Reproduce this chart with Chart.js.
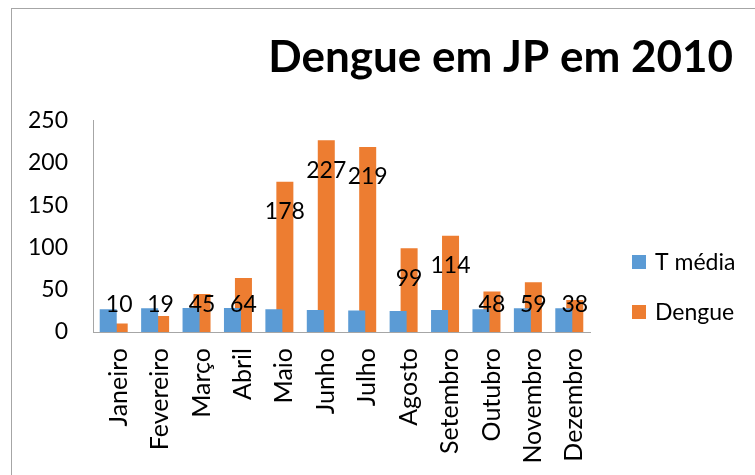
<!DOCTYPE html>
<html>
<head>
<meta charset="utf-8">
<script src="https://cdn.jsdelivr.net/npm/chart.js@4.4.1/dist/chart.umd.min.js"></script>
<style>
  html, body { margin: 0; padding: 0; background: #ffffff; }
  #wrap { position: relative; width: 755px; height: 475px; overflow: hidden; }
  #frame { position: absolute; left: 11px; top: 8px; width: 800px; height: 500px;
           border-left: 1px solid #a6a6a6; border-top: 1px solid #a6a6a6; }
  canvas { position: absolute; left: 0; top: 0; }
</style>
</head>
<body>
<div id="wrap">
  <div id="frame"></div>
  <canvas id="chart" width="755" height="475"></canvas>
</div>
<script>
const months = ["Janeiro", "Fevereiro", "Março", "Abril", "Maio", "Junho",
  "Julho", "Agosto", "Setembro", "Outubro", "Novembro", "Dezembro"];
const tMedia = [27, 28, 28.5, 28.5, 27, 26, 25.5, 25, 26, 27, 28, 28];
const dengue = [10, 19, 45, 64, 178, 227, 219, 99, 114, 48, 59, 38];
const seriesNames = ["T média", "Dengue"];
const seriesColors = ["#5b9bd5", "#ed7d31"];

const FONT = "Lato";

// numbers on the Dengue bars, a bit under the top of each bar
const dengueLabels = {
  id: "dengueLabels",
  afterDatasetsDraw(chart) {
    const ctx = chart.ctx;
    const meta = chart.getDatasetMeta(1);
    const floor = chart.scales.y.getPixelForValue(0) - 27;
    ctx.save();
    ctx.font = "23px " + FONT;
    ctx.fillStyle = "#000000";
    ctx.textAlign = "center";
    ctx.textBaseline = "middle";
    meta.data.forEach((bar, i) => {
      const y = Math.min(bar.y + 30, floor);
      ctx.fillText(String(dengue[i]), bar.x, y);
    });
    ctx.restore();
  },
};

// legend on the right, drawn next to the plot area
const sideLegend = {
  id: "sideLegend",
  afterDraw(chart) {
    const ctx = chart.ctx;
    const area = chart.chartArea;
    const x = area.right + 42;
    const rows = [area.bottom - 70, area.bottom - 20];
    ctx.save();
    ctx.font = "23px " + FONT;
    ctx.textBaseline = "middle";
    ctx.textAlign = "left";
    rows.forEach((y, i) => {
      ctx.fillStyle = seriesColors[i];
      ctx.fillRect(x, y - 7, 14, 14);
      ctx.fillStyle = "#000000";
      ctx.fillText(seriesNames[i], x + 23, y + 1);
    });
    ctx.restore();
  },
};

new Chart(document.getElementById("chart"), {
  type: "bar",
  data: {
    labels: months,
    datasets: [
      { label: seriesNames[0], data: tMedia, backgroundColor: seriesColors[0] },
      { label: seriesNames[1], data: dengue, backgroundColor: seriesColors[1] },
    ],
  },
  options: {
    responsive: false,
    animation: false,
    categoryPercentage: 0.53,
    barPercentage: 1.55,
    layout: { padding: { left: 0, right: 22, top: 10, bottom: 0 } },
    plugins: {
      legend: { display: false },
      tooltip: { enabled: false },
      title: {
        display: true,
        text: "Dengue em JP em 2010",
        align: "end",
        color: "#000000",
        font: { family: FONT, size: 44, weight: "bold", lineHeight: 1.2 },
        padding: { top: 21, bottom: 37 },
      },
    },
    scales: {
      x: {
        grid: { display: false, drawTicks: false },
        border: { display: true, color: "#a6a6a6" },
        ticks: {
          color: "#000000",
          font: { family: FONT, size: 25 },
          minRotation: 90,
          maxRotation: 90,
          padding: 16,
          labelOffset: 5,
          autoSkip: false,
        },
        afterFit(scale) { scale.height = 143; },
      },
      y: {
        min: 0,
        max: 250,
        grid: { display: false, drawTicks: false },
        border: { display: true, color: "#a6a6a6" },
        ticks: {
          stepSize: 50,
          color: "#000000",
          font: { family: FONT, size: 23 },
          padding: 25,
        },
        afterFit(scale) { scale.width = 93; },
      },
      spacer: {
        type: "linear",
        position: "right",
        display: true,
        grid: { display: false, drawTicks: false },
        border: { display: false },
        ticks: { display: false },
        afterFit(scale) { scale.width = 143; },
      },
    },
  },
  plugins: [dengueLabels, sideLegend],
});
</script>
</body>
</html>
